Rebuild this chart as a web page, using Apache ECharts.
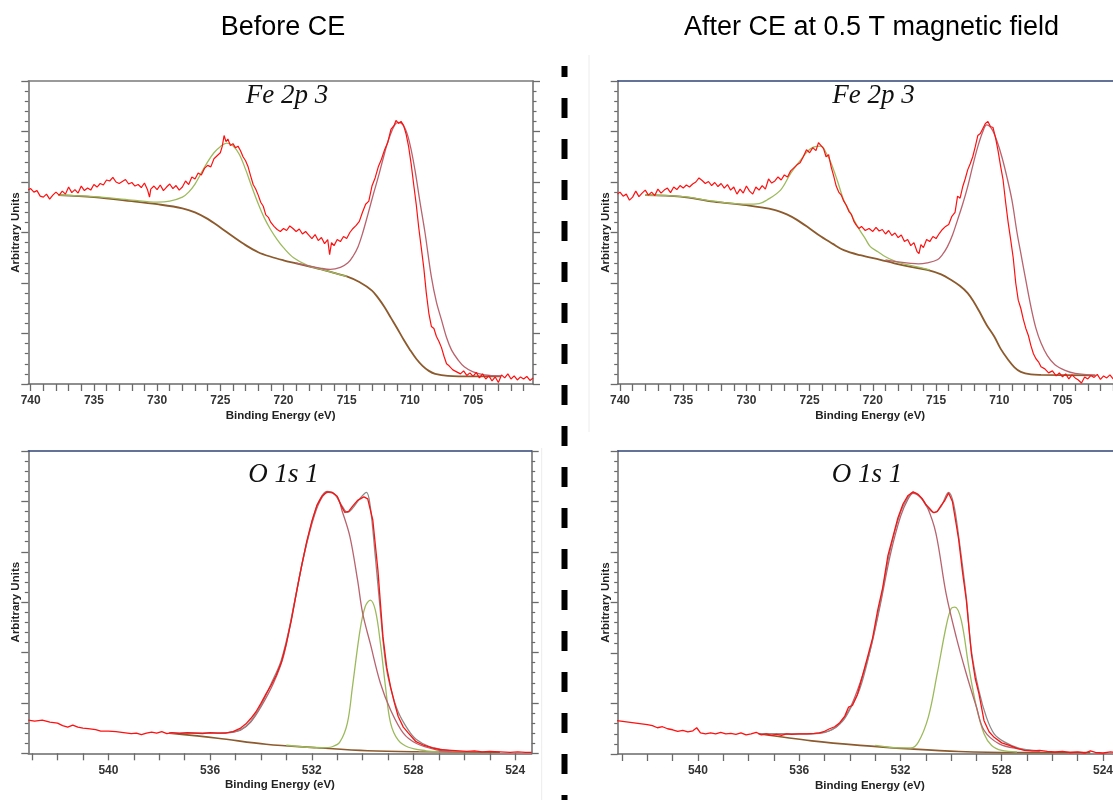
<!DOCTYPE html>
<html>
<head>
<meta charset="UTF-8">
<title>XPS Fe 2p / O 1s</title>
<script src="https://cdn.jsdelivr.net/npm/echarts@6/dist/echarts.min.js"></script>
<style>
html, body { margin: 0; padding: 0; background: #fff; overflow: hidden; }
#chart { width: 1125px; height: 800px; }
</style>
</head>
<body>
<div id="chart"></div>
<script type="text/javascript">
// tick values
var feTicks = [705, 710, 715, 720, 725, 730, 735, 740];
var feMinorTicks = [701,702,703,704,705,706,707,708,709,710,711,712,713,714,715,716,717,718,719,720,
	721,722,723,724,725,726,727,728,729,730,731,732,733,734,735,736,737,738,739,740];
var oTicks = [524, 528, 532, 536, 540];
var oMinorTicks = [524,525,526,527,528,529,530,531,532,533,534,535,536,537,538,539,540,541,542,543];

// Fe 2p, before CE
var feBeforeRaw = [[740.2,3.84],[740.0,3.87],[739.75,3.80],[739.5,3.83],[739.25,3.72],[739.0,3.70],[738.75,3.76],[738.5,3.66],[738.25,3.74],[738.0,3.80],
	[737.75,3.74],[737.5,3.82],[737.25,3.76],[737.0,3.90],[736.75,3.79],[736.5,3.85],[736.25,3.78],[736.0,3.92],[735.75,3.83],[735.5,3.88],
	[735.25,3.84],[735.0,3.95],[734.75,3.90],[734.5,3.97],[734.25,3.94],[734.0,4.04],[733.75,4.02],[733.5,4.09],[733.25,4.00],[733.0,3.97],
	[732.75,4.01],[732.5,4.05],[732.25,3.96],[732.0,3.99],[731.75,3.92],[731.5,3.95],[731.25,3.89],[731.0,3.98],[730.75,3.84],[730.6,3.70],
	[730.5,3.86],[730.25,3.92],[730.0,3.85],[729.75,3.94],[729.5,3.83],[729.25,3.90],[729.0,3.96],[728.75,3.87],[728.5,3.93],[728.25,3.84],
	[728.0,3.90],[727.75,4.02],[727.5,3.95],[727.25,4.10],[727.0,4.06],[726.75,4.18],[726.5,4.14],[726.25,4.27],[726.0,4.33],[725.75,4.30],
	[725.5,4.46],[725.25,4.52],[725.0,4.58],[724.85,4.70],[724.7,4.92],[724.55,4.80],[724.4,4.85],[724.2,4.72],[724.0,4.76],[723.8,4.68],
	[723.6,4.71],[723.4,4.62],[723.2,4.50],[723.0,4.42],[722.8,4.30],[722.6,4.12],[722.4,3.95],[722.2,3.86],[722.0,3.74],[721.8,3.60],
	[721.6,3.52],[721.4,3.35],[721.2,3.30],[721.0,3.20],[720.75,3.12],[720.5,3.06],[720.25,3.02],[720.0,3.08],[719.75,3.04],[719.5,3.13],
	[719.25,3.08],[719.0,3.02],[718.75,3.07],[718.5,2.97],[718.25,3.02],[718.0,2.95],[717.75,2.88],[717.5,2.96],[717.25,2.84],[717.0,2.90],
	[716.75,2.78],[716.5,2.86],[716.35,2.56],[716.2,2.80],[716.0,2.74],[715.75,2.86],[715.5,2.82],[715.25,2.92],[715.0,2.88],[714.75,3.00],
	[714.5,3.08],[714.25,3.14],[714.0,3.22],[713.75,3.40],[713.5,3.56],[713.25,3.62],[713.0,3.92],[712.75,4.08],[712.5,4.30],[712.25,4.45],
	[712.0,4.64],[711.75,4.78],[711.5,5.04],[711.25,5.12],[711.1,5.22],[710.9,5.16],[710.7,5.20],[710.5,5.12],[710.3,4.95],[710.1,4.70],
	[709.9,4.36],[709.7,3.95],[709.5,3.56],[709.3,3.10],[709.1,2.70],[708.9,2.30],[708.7,1.80],[708.5,1.40],[708.3,1.14],[708.1,1.10],
	[707.9,0.94],[707.7,0.84],[707.5,0.72],[707.3,0.55],[707.1,0.40],[706.9,0.36],[706.6,0.28],[706.3,0.24],[706.0,0.20],[705.75,0.26],
	[705.5,0.17],[705.25,0.22],[705.0,0.15],[704.75,0.23],[704.5,0.12],[704.25,0.20],[704.0,0.10],[703.75,0.16],[703.5,0.06],[703.25,0.14],
	[703.0,0.03],[702.75,0.18],[702.5,0.12],[702.25,0.20],[702.0,0.10],[701.75,0.16],[701.5,0.08],[701.25,0.14],[701.0,0.10],[700.75,0.15],
	[700.5,0.07],[700.25,0.12]];
var feBeforeBg = [[737.8,3.74],[735,3.70],[732,3.62],[730,3.56],[728,3.48],[727,3.40],[726,3.27],[725,3.10],[724,2.92],[723,2.75],
	[722,2.61],[721,2.52],[720,2.45],[719,2.39],[718,2.33],[717,2.27],[716,2.20],[715,2.13],[714,2.02],[713,1.85],[712.5,1.70],
	[712,1.52],[711.5,1.31],[711,1.10],[710.5,0.88],[710,0.68],[709.5,0.50],[709,0.36],[708.5,0.26],[708,0.20],[707,0.16],[705,0.15],[702.8,0.15]];
var feBeforeP1 = [[737.8,3.74],[735,3.71],[732,3.64],[730,3.60],[729,3.62],[728,3.70],[727.5,3.80],[727,3.96],[726.5,4.18],[726,4.40],
	[725.5,4.58],[725,4.70],[724.5,4.77],[724,4.72],[723.5,4.55],[723,4.25],[722.5,3.90],[722,3.57],[721.5,3.28],[721,3.05],
	[720.5,2.86],[720,2.70],[719.2,2.50],[718.1,2.35],[717,2.27],[716,2.20],[715,2.13]];
var feBeforeP3 = [[719,2.40],[718,2.34],[717,2.29],[716.3,2.27],[715.5,2.31],[714.9,2.40],[714.5,2.53],[714.1,2.72],[713.7,3.02],[713.3,3.38],
	[712.9,3.75],[712.5,4.10],[712.1,4.48],[711.7,4.83],[711.2,5.13],[710.9,5.18],[710.4,5.07],[710.0,4.75],[709.6,4.24],[709.2,3.60],
	[708.8,2.99],[708.3,2.12],[707.9,1.62],[707.5,1.27],[707.1,0.92],[706.7,0.67],[706.2,0.48],[705.7,0.34],[705.0,0.24],[704.1,0.18],[702.8,0.16]];

// Fe 2p, after CE at 0.5 T
var feAfterRaw = [[740.2,3.76],[740.0,3.80],[739.75,3.72],[739.5,3.76],[739.25,3.64],[739.0,3.70],[738.75,3.82],[738.5,3.71],[738.25,3.78],[738.0,3.84],
	[737.75,3.74],[737.5,3.80],[737.25,3.73],[737.0,3.86],[736.75,3.78],[736.5,3.84],[736.25,3.88],[736.0,3.79],[735.75,3.90],[735.5,3.85],
	[735.25,3.93],[735.0,3.88],[734.75,3.94],[734.5,3.90],[734.25,3.96],[734.0,4.00],[733.75,4.08],[733.5,4.03],[733.25,3.97],[733.0,4.01],
	[732.75,3.93],[732.5,3.99],[732.25,3.91],[732.0,3.97],[731.75,3.88],[731.5,3.95],[731.25,3.84],[731.0,3.90],[730.75,3.76],[730.5,3.86],
	[730.25,3.78],[730.0,3.92],[729.75,3.82],[729.5,3.76],[729.25,3.90],[729.0,3.84],[728.75,3.93],[728.5,3.86],[728.25,4.06],[728.0,3.98],
	[727.75,4.02],[727.5,4.10],[727.25,4.04],[727.0,4.14],[726.75,4.10],[726.5,4.22],[726.25,4.28],[726.0,4.34],[725.75,4.38],[725.5,4.50],
	[725.25,4.64],[725.0,4.58],[724.75,4.68],[724.5,4.62],[724.3,4.78],[724.1,4.72],[723.9,4.66],[723.7,4.50],[723.5,4.54],[723.3,4.30],
	[723.1,4.12],[722.9,3.92],[722.7,3.80],[722.5,3.74],[722.3,3.62],[722.1,3.54],[721.9,3.42],[721.7,3.36],[721.5,3.22],[721.3,3.14],
	[721.1,3.08],[720.9,3.12],[720.6,3.04],[720.3,3.08],[720.0,3.02],[719.75,3.10],[719.5,3.03],[719.25,3.06],[719.0,2.97],[718.75,3.04],
	[718.5,2.94],[718.25,2.99],[718.0,2.90],[717.75,2.95],[717.5,2.82],[717.25,2.86],[717.0,2.74],[716.75,2.80],[716.5,2.62],[716.35,2.58],
	[716.2,2.76],[716.0,2.70],[715.75,2.86],[715.5,2.82],[715.25,2.92],[715.0,2.88],[714.75,2.98],[714.5,3.06],[714.25,3.12],[714.0,3.16],
	[713.75,3.32],[713.5,3.40],[713.3,3.72],[713.1,3.68],[712.9,3.90],[712.7,4.06],[712.5,4.24],[712.3,4.36],[712.1,4.50],[711.9,4.70],
	[711.7,4.92],[711.5,4.96],[711.3,5.06],[711.1,5.16],[710.9,5.20],[710.7,5.10],[710.5,5.08],[710.3,4.88],[710.1,4.62],[709.9,4.32],
	[709.7,4.04],[709.5,3.60],[709.3,3.20],[709.1,2.86],[708.9,2.50],[708.7,2.00],[708.5,1.66],[708.3,1.50],[708.1,1.28],[707.9,1.10],
	[707.7,0.96],[707.5,0.76],[707.3,0.60],[707.1,0.50],[706.9,0.44],[706.7,0.34],[706.4,0.30],[706.1,0.22],[705.8,0.26],[705.5,0.16],
	[705.25,0.22],[705.0,0.14],[704.75,0.20],[704.5,0.10],[704.25,0.18],[704.0,0.12],[703.75,0.08],[703.5,0.02],[703.25,0.14],[703.0,0.10],
	[702.75,0.17],[702.5,0.13],[702.25,0.19],[702.0,0.09],[701.75,0.16],[701.5,0.12],[701.25,0.18],[701.0,0.10],[700.75,0.15],[700.5,0.12],[700.25,0.16]];
var feAfterBg = [[738,3.74],[735.2,3.71],[732.6,3.61],[730,3.54],[727.8,3.45],[726.8,3.36],[726,3.25],[725,3.08],[724.1,2.92],[723.2,2.78],
	[722.3,2.65],[721,2.55],[719.4,2.46],[718.3,2.39],[717,2.32],[715.7,2.26],[714.6,2.17],[713.8,2.06],[713.1,1.94],[712.5,1.80],
	[712,1.62],[711.5,1.40],[711,1.17],[710.4,0.94],[709.9,0.70],[709.3,0.48],[708.8,0.33],[708.3,0.24],[707.5,0.19],[706.7,0.18],[702.4,0.17]];
var feAfterP1 = [[738,3.74],[735,3.71],[732.6,3.62],[730,3.56],[729,3.57],[728.4,3.64],[727.3,3.84],[726.5,4.17],[725.7,4.44],[725.2,4.60],
	[724.7,4.69],[724.1,4.71],[723.7,4.58],[723.3,4.37],[722.8,4.02],[722.3,3.64],[721.7,3.35],[721.2,3.11],[720.6,2.88],[720.2,2.72],
	[719.6,2.62],[719,2.52],[718.3,2.44],[717.6,2.38],[716.5,2.32],[715.5,2.26]];
var feAfterP3 = [[719,2.46],[718,2.42],[717,2.39],[716.4,2.38],[715.7,2.40],[714.9,2.46],[714.5,2.56],[714.1,2.72],[713.7,2.95],[713.3,3.25],
	[712.9,3.56],[712.5,3.91],[712.1,4.32],[711.7,4.70],[711.3,5.00],[711.0,5.13],[710.6,5.05],[710.2,4.82],[709.8,4.50],[709.4,4.10],
	[709.0,3.64],[708.6,3.00],[708.3,2.59],[707.9,2.05],[707.5,1.53],[707.1,1.10],[706.7,0.81],[706.2,0.56],[705.6,0.38],[704.8,0.27],[704.0,0.21],[702.4,0.17]];

// O 1s, before CE
var oBeforeRaw = [[543.15,0.66],[542.9,0.64],[542.6,0.66],[542.3,0.62],[542.0,0.60],[541.8,0.55],[541.6,0.52],[541.4,0.56],[541.2,0.52],[541.0,0.50],
	[540.8,0.49],[540.5,0.47],[540.3,0.44],[540.0,0.44],[539.7,0.43],[539.4,0.41],[539.1,0.39],[538.9,0.40],[538.7,0.37],[538.5,0.40],
	[538.3,0.42],[538.1,0.40],[537.9,0.43],[537.7,0.39],[537.5,0.41],[537.2,0.39],[536.9,0.41],[536.6,0.40],[536.3,0.39],[536.0,0.41],
	[535.7,0.40],[535.4,0.40],[535.1,0.43],[534.8,0.50],[534.6,0.58],[534.4,0.69],[534.2,0.82],[534.0,0.99],[533.8,1.18],[533.6,1.35],
	[533.4,1.55],[533.2,1.80],[533.0,2.18],[532.8,2.65],[532.6,3.20],[532.4,3.72],[532.2,4.20],[532.0,4.60],[531.8,4.92],[531.6,5.10],
	[531.4,5.19],[531.2,5.18],[531.0,5.10],[530.85,4.92],[530.7,4.78],[530.55,4.80],[530.4,4.90],[530.2,5.02],[529.95,5.09],[529.8,5.05],
	[529.6,4.63],[529.4,3.64],[529.2,2.31],[529.05,1.70],[528.9,1.32],[528.75,1.00],[528.6,0.73],[528.4,0.52],[528.2,0.40],[527.9,0.23],
	[527.6,0.16],[527.2,0.10],[526.9,0.07],[526.5,0.06],[526.2,0.05],[525.9,0.04],[525.6,0.05],[525.3,0.03],[525.0,0.04],[524.6,0.03],
	[524.2,0.02],[523.9,0.03],[523.6,0.02],[523.35,0.02]];
var oBeforeEnv = [[537.6,0.40],[536,0.40],[535.3,0.41],[534.8,0.47],[534.4,0.64],[534,0.95],[533.6,1.38],[533.2,1.85],[532.8,2.68],[532.4,3.72],
	[532,4.58],[531.7,5.02],[531.4,5.20],[531.1,5.14],[530.8,4.90],[530.6,4.78],[530.4,4.86],[530.1,5.06],[529.85,5.18],[529.7,4.90],
	[529.5,3.90],[529.3,2.80],[529.1,1.80],[528.9,1.30],[528.6,0.82],[528.2,0.46],[527.9,0.28],[527.4,0.14],[526.8,0.07],[526.5,0.05]];
var oBeforeBg = [[537.6,0.40],[535.7,0.30],[533.8,0.18],[531.8,0.11],[529.8,0.05],[527.8,0.03],[524.6,0.02]];
var oBeforeLat = [[533.0,0.16],[531.6,0.11],[531.2,0.13],[530.9,0.22],[530.6,0.60],[530.4,1.32],[530.1,2.45],[529.9,2.91],[529.7,3.04],[529.5,2.84],
	[529.3,2.18],[529.1,1.32],[528.9,0.60],[528.6,0.26],[528.2,0.12],[527.5,0.05],[527.0,0.03]];
var oBeforeOH = [[537.6,0.40],[536,0.40],[535.3,0.41],[534.8,0.46],[534.4,0.62],[534,0.92],[533.5,1.40],[533.1,1.95],[532.7,2.95],[532.3,3.95],
	[531.9,4.72],[531.6,5.08],[531.35,5.18],[531.0,5.09],[530.8,4.80],[530.5,4.30],[530.2,3.44],[530.0,2.78],[529.7,2.18],[529.3,1.39],
	[528.9,0.86],[528.4,0.40],[527.9,0.20],[527.1,0.07],[526.5,0.04]];

// O 1s, after CE at 0.5 T
var oAfterRaw = [[543.2,0.66],[542.9,0.64],[542.6,0.62],[542.3,0.60],[542.0,0.58],[541.8,0.56],[541.6,0.52],[541.4,0.54],[541.2,0.50],[541.0,0.48],
	[540.8,0.45],[540.6,0.47],[540.4,0.44],[540.2,0.46],[540.05,0.52],[539.9,0.42],[539.7,0.40],[539.5,0.42],[539.3,0.40],[539.1,0.43],
	[538.9,0.40],[538.7,0.41],[538.5,0.39],[538.3,0.42],[538.1,0.38],[537.9,0.40],[537.7,0.43],[537.5,0.38],[537.3,0.40],[537.1,0.37],
	[536.9,0.39],[536.7,0.37],[536.5,0.40],[536.3,0.39],[536.0,0.40],[535.7,0.40],[535.4,0.41],[535.2,0.42],[535.0,0.45],[534.8,0.50],
	[534.6,0.54],[534.4,0.62],[534.2,0.75],[534.05,0.93],[533.9,0.96],[533.7,1.18],[533.5,1.55],[533.3,1.92],[533.1,2.30],[532.9,2.85],
	[532.7,3.30],[532.5,3.92],[532.3,4.30],[532.1,4.68],[531.9,4.95],[531.7,5.12],[531.5,5.19],[531.3,5.14],[531.15,5.06],[531.0,4.94],
	[530.85,4.86],[530.7,4.78],[530.55,4.80],[530.4,4.92],[530.25,5.02],[530.1,5.17],[529.95,5.00],[529.8,4.55],[529.7,4.24],[529.55,3.60],
	[529.4,3.05],[529.2,1.99],[529.05,1.50],[528.9,1.19],[528.7,0.66],[528.5,0.44],[528.3,0.33],[528.0,0.22],[527.7,0.17],[527.4,0.11],
	[527.1,0.07],[526.8,0.06],[526.5,0.07],[526.2,0.05],[525.9,0.04],[525.6,0.05],[525.3,0.03],[525.0,0.04],[524.7,0.02],[524.5,0.06],
	[524.3,0.03],[524.0,0.02],[523.7,0.04],[523.4,0.02],[523.2,0.03]];
var oAfterEnv = [[537.6,0.40],[536,0.40],[535.2,0.41],[534.7,0.48],[534.3,0.64],[534,0.88],[533.6,1.30],[533.2,2.05],[532.8,3.00],[532.4,4.05],
	[532.0,4.78],[531.7,5.08],[531.5,5.18],[531.2,5.08],[530.9,4.86],[530.65,4.78],[530.4,4.90],[530.1,5.18],[529.9,4.95],[529.7,4.30],
	[529.4,3.10],[529.2,2.05],[528.9,1.25],[528.6,0.72],[528.3,0.40],[527.9,0.24],[527.3,0.11],[526.5,0.06]];
var oAfterBg = [[537.6,0.40],[535.5,0.26],[533.6,0.17],[531.6,0.10],[529.7,0.05],[527.5,0.03],[524.5,0.03]];
var oAfterLat = [[533.0,0.17],[532.0,0.12],[531.6,0.12],[531.3,0.23],[530.9,0.73],[530.55,1.59],[530.2,2.52],[530.0,2.88],[529.85,2.91],[529.6,2.65],
	[529.3,1.72],[529.0,0.93],[528.7,0.40],[528.4,0.17],[528.0,0.07],[527.4,0.04]];
var oAfterOH = [[537.6,0.40],[536,0.40],[535.3,0.41],[534.8,0.46],[534.4,0.60],[534,0.90],[533.6,1.40],[533.2,2.05],[532.8,2.95],[532.4,3.95],
	[532.0,4.70],[531.7,5.05],[531.5,5.16],[531.2,5.08],[530.95,4.90],[530.6,4.37],[530.2,3.18],[529.8,2.32],[529.4,1.59],[529.0,0.93],
	[528.7,0.47],[528.1,0.20],[527.3,0.10],[526.5,0.05]];

// layout of the four plot boxes
var panels = [
	{left:28.3, top:81, width:504.7, height:303, xMin:700.26, xMax:740.19, ticks:feTicks, minor:feMinorTicks, topColor:'#7a7a7a'},
	{left:617.7, top:81, width:505, height:303, xMin:700.24, xMax:740.18, ticks:feTicks, minor:feMinorTicks, topColor:'#2f4676'},
	{left:28.3, top:451, width:503.4, height:302.3, xMin:523.35, xMax:543.15, ticks:oTicks, minor:oMinorTicks, topColor:'#2f4676'},
	{left:617.7, top:451, width:504.3, height:303, xMin:523.25, xMax:543.17, ticks:oTicks, minor:oMinorTicks, topColor:'#2f4676'}
];
var curves = [
	[{d:feBeforeBg, c:'#8c5a2c', w:1.8}, {d:feBeforeP1, c:'#9cba5c', w:1.3}, {d:feBeforeP3, c:'#b8636d', w:1.3}, {d:feBeforeRaw, c:'#ff1010', w:1.2, raw:true}],
	[{d:feAfterBg, c:'#8c5a2c', w:1.8}, {d:feAfterP1, c:'#9cba5c', w:1.3}, {d:feAfterP3, c:'#b8636d', w:1.3}, {d:feAfterRaw, c:'#ff1010', w:1.2, raw:true}],
	[{d:oBeforeBg, c:'#8c5a2c', w:1.6}, {d:oBeforeLat, c:'#9cba5c', w:1.3}, {d:oBeforeOH, c:'#b8636d', w:1.3}, {d:oBeforeEnv, c:'#8a8a8a', w:1.3}, {d:oBeforeRaw, c:'#ff1010', w:1.3, raw:true}],
	[{d:oAfterBg, c:'#8c5a2c', w:1.6}, {d:oAfterLat, c:'#9cba5c', w:1.3}, {d:oAfterOH, c:'#b8636d', w:1.3}, {d:oAfterEnv, c:'#8a8a8a', w:1.3}, {d:oAfterRaw, c:'#ff1010', w:1.3, raw:true}]
];

var axisGray = '#6a6a6a';
var lblFont = 'Liberation Sans';
var grids = [], xAxes = [], yAxes = [], series = [];
panels.forEach(function(p, i){
	grids.push({left:p.left, top:p.top, width:p.width, height:p.height, containLabel:false});
	// bottom axis with labels
	xAxes.push({
		type:'value', gridIndex:i, position:'bottom', inverse:true, min:p.xMin, max:p.xMax,
		name:'Binding Energy (eV)', nameLocation:'middle', nameGap:26,
		nameTextStyle:{fontFamily:lblFont, fontWeight:'bold', fontSize:11.5, color:'#222'},
		axisLine:{show:true, lineStyle:{color:axisGray, width:1.5}},
		axisTick:{show:true, inside:false, length:7, customValues:p.minor, lineStyle:{color:axisGray, width:1.3}},
		axisLabel:{show:true, margin:11, customValues:p.ticks, fontFamily:lblFont, fontWeight:'bold', fontSize:12, color:'#333'},
		splitLine:{show:false}
	});
	// top border
	xAxes.push({
		type:'value', gridIndex:i, position:'top', inverse:true, min:p.xMin, max:p.xMax,
		axisLine:{show:true, onZero:false, lineStyle:{color:p.topColor, width:1.5}},
		axisTick:{show:false}, axisLabel:{show:false}, splitLine:{show:false}
	});
	// left axis
	yAxes.push({
		type:'value', gridIndex:i, position:'left', min:0, max:6, interval:1,
		name:'Arbitrary Units', nameLocation:'middle', nameGap:6,
		nameTextStyle:{fontFamily:lblFont, fontWeight:'bold', fontSize:11.5, color:'#222'},
		axisLine:{show:true, lineStyle:{color:axisGray, width:1.5}},
		axisTick:{show:true, inside:false, length:7, lineStyle:{color:axisGray, width:1.3}},
		minorTick:{show:true, splitNumber:5, length:3.5, lineStyle:{color:axisGray, width:1.2}},
		axisLabel:{show:false}, splitLine:{show:false}
	});
	// right axis
	yAxes.push({
		type:'value', gridIndex:i, position:'right', min:0, max:6, interval:1,
		axisLine:{show:true, lineStyle:{color:axisGray, width:1.5}},
		axisTick:{show:true, inside:false, length:7, lineStyle:{color:axisGray, width:1.3}},
		minorTick:{show:true, splitNumber:5, length:3.5, lineStyle:{color:axisGray, width:1.2}},
		axisLabel:{show:false}, splitLine:{show:false}
	});
	curves[i].forEach(function(cv){
		series.push({
			type:'line', xAxisIndex:i*2, yAxisIndex:i*2, data:cv.d,
			showSymbol:false, symbol:'none', smooth:cv.raw ? false : 0.35,
			lineStyle:{color:cv.c, width:cv.w}, silent:true, clip:true
		});
	});
});

var chart = echarts.init(document.getElementById('chart'), null, {renderer:'canvas'});
chart.setOption({
	animation:false,
	backgroundColor:'#fff',
	grid:grids, xAxis:xAxes, yAxis:yAxes, series:series,
	graphic:[
		// faint edges of the pasted pictures
		{type:'line', shape:{x1:589, y1:55, x2:589, y2:432}, style:{stroke:'#ececec', lineWidth:1}, silent:true},
		{type:'line', shape:{x1:541.7, y1:448, x2:541.7, y2:800}, style:{stroke:'#ececec', lineWidth:1}, silent:true},
		// dashed separator
		{type:'line', shape:{x1:564.5, y1:66, x2:564.5, y2:800},
			style:{stroke:'#000', lineWidth:6, lineDash:[20, 21], lineDashOffset:9}, silent:true},
		{type:'text', x:283, y:28, style:{text:'Before CE', font:'27px "Liberation Sans"', fill:'#000', textAlign:'center', textVerticalAlign:'middle'}},
		{type:'text', x:871.5, y:28, style:{text:'After CE at 0.5 T magnetic field', font:'27px "Liberation Sans"', fill:'#000', textAlign:'center', textVerticalAlign:'middle'}},
		{type:'text', x:287, y:96, style:{text:'Fe 2p 3', font:'italic 27px "Liberation Serif"', fill:'#111', textAlign:'center', textVerticalAlign:'middle'}},
		{type:'text', x:873.5, y:96, style:{text:'Fe 2p 3', font:'italic 27px "Liberation Serif"', fill:'#111', textAlign:'center', textVerticalAlign:'middle'}},
		{type:'text', x:283.5, y:475, style:{text:'O 1s 1', font:'italic 27px "Liberation Serif"', fill:'#111', textAlign:'center', textVerticalAlign:'middle'}},
		{type:'text', x:867, y:475, style:{text:'O 1s 1', font:'italic 27px "Liberation Serif"', fill:'#111', textAlign:'center', textVerticalAlign:'middle'}}
	]
});
</script>
</body>
</html>
